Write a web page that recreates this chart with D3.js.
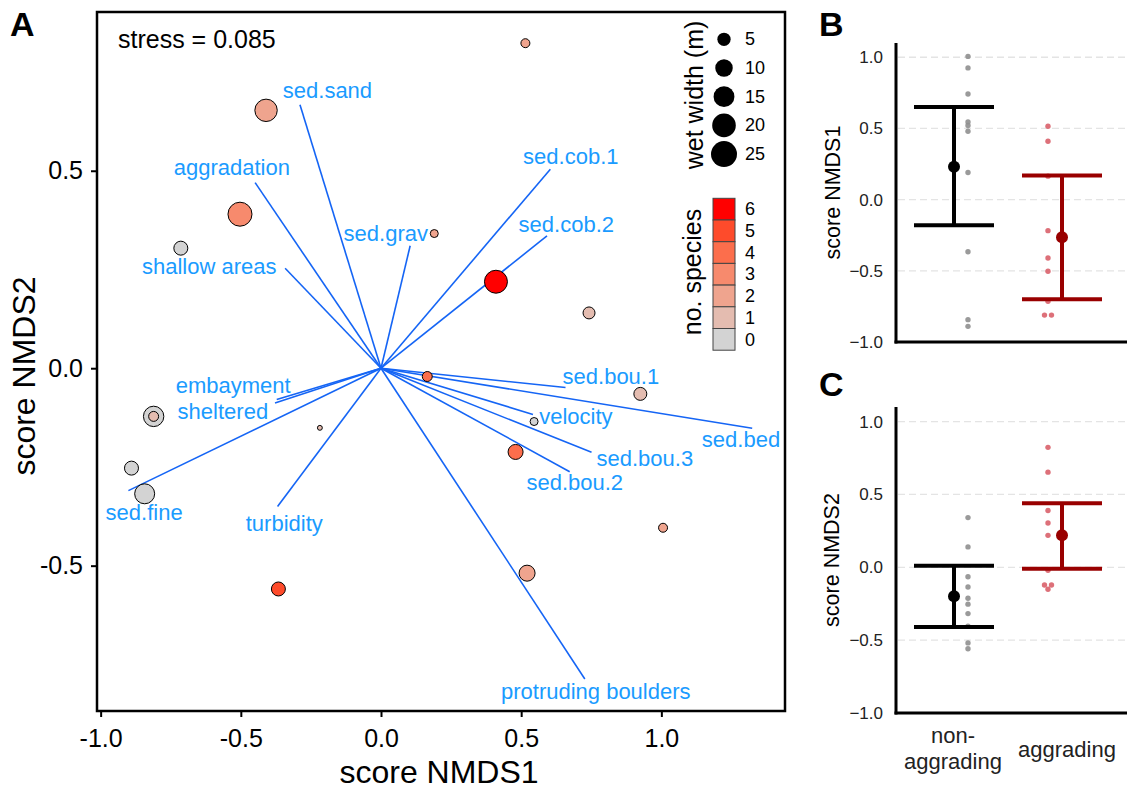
<!DOCTYPE html>
<html>
<head>
<meta charset="utf-8">
<script src="https://cdn.jsdelivr.net/npm/d3@7"></script>
<style>
body { margin: 0; background: #fff; }
text { font-family: "Liberation Sans", Arial, Helvetica, sans-serif; }
</style>
</head>
<body>
<svg id="chart" width="1127" height="791"></svg>
<script>
// site scores (NMDS), wet width, number of species, aggrading (1) or not (0)
var nmds1     = [0.515, -0.41, -0.503, -0.714, 0.19, 0.41, 0.742, 0.165, 0.925, 0.546, -0.218, -0.811, -0.811, -0.89, -0.843, 0.48, 1.006, 0.521, -0.366];
var nmds2     = [0.823, 0.653, 0.39, 0.304, 0.341, 0.219, 0.14, -0.021, -0.065, -0.135, -0.151, -0.122, -0.122, -0.253, -0.318, -0.212, -0.404, -0.519, -0.559];
var wetWidth  = [2.3, 19.7, 22.9, 6.8, 1.7, 20.8, 4.7, 3.0, 5.7, 1.7, 0.4, 16, 3.0, 6.8, 15.3, 8, 2.3, 9.3, 6.8];
var nSpecies  = [2, 2, 3, 0, 2, 6, 1, 4, 1, 0, 1, 0, 1, 0, 0, 4, 2, 2, 5];
var aggrading = [1, 1, 1, 1, 0, 1, 0, 1, 0, 0, 1, 1, 1, 0, 0, 0, 0, 0, 0];

// fitted environmental vectors and where their labels sit
var vecNames = ['sed.sand', 'aggradation', 'shallow areas', 'sed.grav', 'sed.cob.1', 'sed.cob.2',
                'sed.bou.1', 'sed.bed', 'velocity', 'sed.bou.3', 'sed.bou.2', 'protruding boulders',
                'turbidity', 'sed.fine', 'embayment', 'sheltered'];
var vecX = [-0.289, -0.449, -0.342, 0.104, 0.604, 0.592, 0.658, 1.324, 0.542, 0.751, 0.673, 0.727, -0.369, -0.901, -0.372, -0.378];
var vecY = [0.667, 0.470, 0.253, 0.310, 0.504, 0.335, -0.049, -0.152, -0.117, -0.213, -0.262, -0.787, -0.350, -0.310, -0.079, -0.088];
var labX = [-0.191, -0.532, -0.6125, 0.017, 0.677, 0.661, 0.820, 1.284, 0.695, 0.941, 0.691, 0.766, -0.345, -0.845, -0.527, -0.564];
var labY = [0.704, 0.507, 0.257, 0.340, 0.536, 0.365, -0.021, -0.180, -0.123, -0.228, -0.289, -0.819, -0.392, -0.366, -0.045, -0.109];

var xTicksA = [-1, -0.5, 0, 0.5, 1];
var yTicksA = [-0.5, 0, 0.5];
var stress = 0.085;
var sizeBreaks = [5, 10, 15, 20, 25];
var speciesBreaks = [6, 5, 4, 3, 2, 1, 0];

// panels B and C
var groups = ['non-aggrading', 'aggrading'];
var ciLow1 = [-0.18, -0.70], ciHigh1 = [0.65, 0.17];
var ciLow2 = [-0.41, -0.01], ciHigh2 = [0.01, 0.44];
var scoreTicks = [-1, -0.5, 0, 0.5, 1];

var svg = d3.select('#chart');

var sites = nmds1.map(function (d, i) {
  return { x: d, y: nmds2[i], w: wetWidth[i], s: nSpecies[i], g: groups[aggrading[i]] };
});

// ---------- panel A ----------
var x = d3.scaleLinear().domain([-1.013, 1.441]).range([97, 785]);
var y = d3.scaleLinear().domain([-0.868, 0.902]).range([711, 12]);
var size = d3.scaleSqrt().domain([0, 25]).range([1.5, 13]);
var color = function (s) { return d3.interpolateLab('#d3d3d3', '#ff0000')(s / 6); };
var fmtA = function (d) { return d.toFixed(1); };

var gA = svg.append('g');

gA.selectAll('line.vec')
  .data(vecNames)
  .enter()
  .append('line')
  .attr('class', 'vec')
  .attr('x1', x(0)).attr('y1', y(0))
  .attr('x2', function (d, i) { return x(vecX[i]); })
  .attr('y2', function (d, i) { return y(vecY[i]); })
  .attr('stroke', '#1565f5')
  .attr('stroke-width', 1.6);

gA.selectAll('circle.site')
  .data(sites.slice().sort(function (a, b) { return b.w - a.w; }))
  .enter()
  .append('circle')
  .attr('class', 'site')
  .attr('cx', function (d) { return x(d.x); })
  .attr('cy', function (d) { return y(d.y); })
  .attr('r', function (d) { return size(d.w) - 0.5; })
  .attr('fill', function (d) { return color(d.s); })
  .attr('stroke', '#000')
  .attr('stroke-width', 1);

gA.selectAll('text.vec')
  .data(vecNames)
  .enter()
  .append('text')
  .attr('class', 'vec')
  .attr('x', function (d, i) { return x(labX[i]); })
  .attr('y', function (d, i) { return y(labY[i]); })
  .attr('text-anchor', 'middle')
  .attr('dominant-baseline', 'central')
  .attr('fill', '#1a9bff')
  .style('font-size', '22px')
  .text(function (d) { return d; });

var xAxisA = gA.append('g')
  .attr('transform', 'translate(0,711)')
  .call(d3.axisBottom(x).tickValues(xTicksA).tickSize(6).tickPadding(12).tickFormat(fmtA));
var yAxisA = gA.append('g')
  .attr('transform', 'translate(97,0)')
  .call(d3.axisLeft(y).tickValues(yTicksA).tickSize(6).tickPadding(8).tickFormat(fmtA));
[xAxisA, yAxisA].forEach(function (ax) {
  ax.select('.domain').remove();
  ax.selectAll('line').attr('stroke', '#000').attr('stroke-width', 2);
  ax.selectAll('text').attr('fill', '#000').style('font-size', '25px').style('font-family', '"Liberation Sans", Arial, sans-serif');
});

gA.append('rect')
  .attr('x', 97).attr('y', 12).attr('width', 688).attr('height', 699)
  .attr('fill', 'none').attr('stroke', '#000').attr('stroke-width', 2.5);

gA.append('text').attr('x', 118).attr('y', 48)
  .style('font-size', '25px').text('stress = ' + stress.toFixed(3));

gA.append('text').attr('x', 439).attr('y', 783)
  .attr('text-anchor', 'middle').style('font-size', '32px').text('score NMDS1');
gA.append('text').attr('transform', 'translate(35,376) rotate(-90)')
  .attr('text-anchor', 'middle').style('font-size', '32px').text('score NMDS2');

// size legend
gA.append('text').attr('transform', 'translate(703,95) rotate(-90)')
  .attr('text-anchor', 'middle').style('font-size', '25px').text('wet width (m)');
var sizeLeg = gA.selectAll('g.sleg').data(sizeBreaks).enter().append('g')
  .attr('class', 'sleg')
  .attr('transform', function (d, i) { return 'translate(724,' + (39.3 + i * 28.7) + ')'; });
sizeLeg.append('circle').attr('r', function (d) { return size(d); }).attr('fill', '#000');
sizeLeg.append('text').attr('x', 21).attr('dominant-baseline', 'central')
  .style('font-size', '18px').text(function (d) { return d; });

// species legend
gA.append('text').attr('transform', 'translate(701,272) rotate(-90)')
  .attr('text-anchor', 'middle').style('font-size', '25px').text('no. species');
var colLeg = gA.selectAll('g.cleg').data(speciesBreaks).enter().append('g')
  .attr('class', 'cleg')
  .attr('transform', function (d, i) { return 'translate(713,' + (198.3 + i * 21.7) + ')'; });
colLeg.append('rect').attr('width', 22).attr('height', 21.7)
  .attr('fill', function (d) { return color(d); })
  .attr('stroke', '#444').attr('stroke-width', 1);
colLeg.append('text').attr('x', 32).attr('y', 11).attr('dominant-baseline', 'central')
  .style('font-size', '18px').text(function (d) { return d; });

// panel letters
[['A', 10, 36], ['B', 819, 36], ['C', 819, 396]].forEach(function (p) {
  svg.append('text').attr('x', p[1]).attr('y', p[2])
    .style('font-size', '34px').style('font-weight', 'bold').text(p[0]);
});

// ---------- panels B and C ----------
var xCat = d3.scalePoint().domain(groups).range([953, 1067]);
var barShift = [1, -5];
var ptShift = [15, -19];
var groupCol = ['#000000', '#990000'];
var ptCol = ['#8f8f8f', '#d9606a'];

function drawPanel(top, bottom, key, lows, highs, title, titleX, showCats) {
  var yS = d3.scaleLinear().domain([-1, 1.1]).range([bottom, top]);
  var g = svg.append('g');

  g.selectAll('line.grid')
    .data(scoreTicks.filter(function (d) { return d > -1; }))
    .enter()
    .append('line')
    .attr('x1', 898).attr('x2', 1127)
    .attr('y1', function (d) { return yS(d); })
    .attr('y2', function (d) { return yS(d); })
    .attr('stroke', '#e4e4e4').attr('stroke-width', 1.3)
    .attr('stroke-dasharray', '7,4');

  var ax = g.append('g').attr('transform', 'translate(896,0)')
    .call(d3.axisLeft(yS).tickValues(scoreTicks).tickSize(0).tickPadding(13).tickFormat(d3.format('.1f')));
  ax.select('.domain').remove();
  ax.selectAll('text').attr('fill', '#222').style('font-size', '17px')
    .style('font-family', '"Liberation Sans", Arial, sans-serif');

  g.append('text').attr('transform', 'translate(' + titleX + ',' + ((top + bottom) / 2) + ') rotate(-90)')
    .attr('text-anchor', 'middle').style('font-size', '21.5px').text(title);

  // jittered site points, side by side where values coincide
  groups.forEach(function (grp, gi) {
    var vals = sites.filter(function (s) { return s.g === grp; }).map(function (s) { return s[key]; });
    g.selectAll('circle.pt' + gi)
      .data(vals)
      .enter()
      .append('circle')
      .attr('cx', function (d, i) {
        var same = vals.filter(function (v) { return Math.abs(v - d) < 0.012; });
        var k = vals.slice(0, i).filter(function (v) { return Math.abs(v - d) < 0.012; }).length;
        return xCat(grp) + ptShift[gi] + (k - (same.length - 1) / 2) * 7;
      })
      .attr('cy', function (d) { return yS(d); })
      .attr('r', 2.7)
      .attr('fill', ptCol[gi])
      .attr('opacity', 0.9);

    var bx = xCat(grp) + barShift[gi];
    var mean = d3.mean(vals);
    g.append('line').attr('x1', bx).attr('x2', bx)
      .attr('y1', yS(lows[gi])).attr('y2', yS(highs[gi]))
      .attr('stroke', groupCol[gi]).attr('stroke-width', 4);
    [lows[gi], highs[gi]].forEach(function (v) {
      g.append('line').attr('x1', bx - 40).attr('x2', bx + 40)
        .attr('y1', yS(v)).attr('y2', yS(v))
        .attr('stroke', groupCol[gi]).attr('stroke-width', 4);
    });
    g.append('circle').attr('cx', bx).attr('cy', yS(mean)).attr('r', 6).attr('fill', groupCol[gi]);
  });

  g.append('line').attr('x1', 896).attr('x2', 896).attr('y1', top).attr('y2', bottom + 1.5)
    .attr('stroke', '#000').attr('stroke-width', 3);
  g.append('line').attr('x1', 894.5).attr('x2', 1127).attr('y1', bottom).attr('y2', bottom)
    .attr('stroke', '#000').attr('stroke-width', 3);

  if (showCats) {
    g.append('text').attr('x', xCat(groups[0])).attr('y', 743).attr('text-anchor', 'middle')
      .style('font-size', '22px').attr('fill', '#222').text('non-');
    g.append('text').attr('x', xCat(groups[0])).attr('y', 769).attr('text-anchor', 'middle')
      .style('font-size', '22px').attr('fill', '#222').text('aggrading');
    g.append('text').attr('x', xCat(groups[1])).attr('y', 757).attr('text-anchor', 'middle')
      .style('font-size', '22px').attr('fill', '#222').text('aggrading');
  }
}

drawPanel(43, 342, 'x', ciLow1, ciHigh1, 'score NMDS1', 840, false);
drawPanel(407, 713, 'y', ciLow2, ciHigh2, 'score NMDS2', 839, true);
</script>
</body>
</html>
